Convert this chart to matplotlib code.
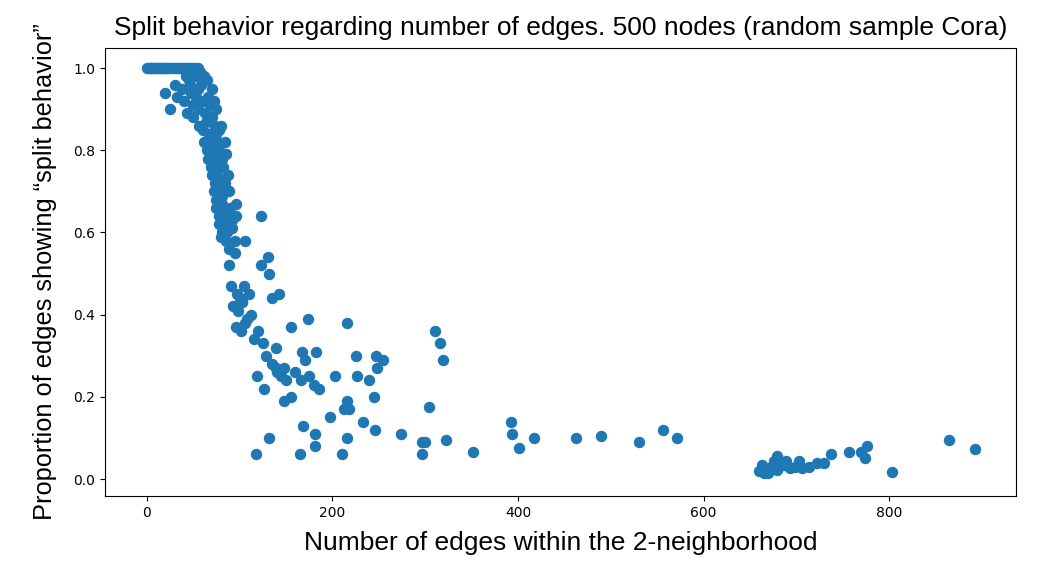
import matplotlib
matplotlib.use("Agg")
from matplotlib import pyplot as plt

# top row: proportion exactly 1.0
top_x = [0, 2, 3, 5, 6, 8, 9, 11, 12, 14, 15, 17, 18, 20, 22, 24, 26, 28, 30, 32,
         34, 36, 38, 40, 42, 44, 46, 48, 50, 52, 55]
top_y = [1.0] * len(top_x)

# steep band of low-edge nodes
band_x = [20, 25, 30, 33, 38, 40, 43, 45, 48, 50, 52, 55, 57, 60, 42, 47, 53, 58, 62, 65,
          50, 55, 60, 63, 66, 68, 70, 72, 56, 60, 64, 67, 70, 73, 75, 78, 62, 65, 68, 71,
          74, 77, 80, 66, 69, 72, 75, 78, 81, 84, 70, 73, 76, 79, 82, 85, 72, 75, 78, 81,
          84, 87, 75, 78, 81, 84, 88, 78, 81, 84, 87, 90, 80, 83, 86, 89, 92, 85, 88, 92,
          95, 88, 91, 97, 102, 100, 105, 110, 93, 98, 103, 108, 112, 96, 101, 106]
band_y = [0.94, 0.90, 0.96, 0.93, 0.95, 0.92, 0.89, 0.97, 0.94, 0.91, 0.98, 0.95, 0.99, 0.97, 0.98, 0.96, 0.93, 0.96, 0.98, 0.97,
          0.88, 0.90, 0.92, 0.89, 0.93, 0.91, 0.95, 0.92, 0.86, 0.85, 0.87, 0.84, 0.88, 0.86, 0.90, 0.85, 0.82, 0.80, 0.83, 0.81,
          0.84, 0.82, 0.86, 0.78, 0.76, 0.79, 0.77, 0.80, 0.78, 0.82, 0.74, 0.72, 0.75, 0.73, 0.76, 0.79, 0.70, 0.68, 0.71, 0.69,
          0.72, 0.74, 0.66, 0.64, 0.67, 0.65, 0.70, 0.62, 0.60, 0.63, 0.61, 0.66, 0.59, 0.62, 0.60, 0.64, 0.63, 0.58, 0.56, 0.61,
          0.58, 0.52, 0.47, 0.45, 0.43, 0.44, 0.47, 0.45, 0.42, 0.41, 0.43, 0.39, 0.40, 0.37, 0.36, 0.38]

# scattered mid-range points
mid_x = [123, 131, 132, 135, 142, 155, 174, 216, 95, 106, 123, 96, 96,
         119, 126, 139, 148, 139, 167, 182, 132, 118, 165, 168, 181, 181, 210, 216,
         197, 216, 212, 218, 203, 233, 246, 245, 226, 225, 239, 247, 254, 248, 175,
         186, 180, 166, 155, 148, 170, 115, 120, 125, 128, 135, 140, 145, 150, 160]
mid_y = [0.52, 0.54, 0.50, 0.44, 0.45, 0.37, 0.39, 0.38, 0.55, 0.58, 0.64, 0.67, 0.64,
         0.25, 0.22, 0.27, 0.27, 0.32, 0.31, 0.31, 0.10, 0.06, 0.06, 0.13, 0.11, 0.08, 0.06, 0.10,
         0.15, 0.19, 0.17, 0.17, 0.25, 0.14, 0.12, 0.20, 0.25, 0.30, 0.24, 0.30, 0.29, 0.27, 0.25,
         0.22, 0.23, 0.24, 0.20, 0.19, 0.29, 0.34, 0.36, 0.33, 0.30, 0.28, 0.26, 0.25, 0.24, 0.26]

# sparse tail
tail_x = [274, 296, 296, 300, 304, 311, 316, 319, 322, 352, 392, 394, 401, 417, 462, 489, 530, 556, 571,
          660, 663, 669, 673, 676, 682, 687, 693, 703, 706, 714, 722, 730, 737, 757, 770, 774, 776, 803,
          864, 892, 665, 671, 679, 689, 698, 679]
tail_y = [0.11, 0.09, 0.06, 0.09, 0.175, 0.36, 0.33, 0.29, 0.095, 0.065, 0.14, 0.11, 0.075, 0.10, 0.10, 0.105, 0.09, 0.12, 0.10,
          0.02, 0.035, 0.015, 0.03, 0.045, 0.04, 0.035, 0.027, 0.045, 0.027, 0.03, 0.04, 0.04, 0.06, 0.065, 0.065, 0.052, 0.08, 0.017,
          0.095, 0.073, 0.015, 0.025, 0.022, 0.045, 0.03, 0.055]

xs = top_x + band_x + mid_x + tail_x
ys = top_y + band_y + mid_y + tail_y

fig = plt.figure(figsize=(10.51, 5.78), dpi=100)
ax = fig.add_axes([0.1, 0.142, 0.867, 0.775])
ax.scatter(xs, ys, s=52, color="#1f77b4")

ax.set_title("Split behavior regarding number of edges. 500 nodes (random sample Cora)",
             fontsize=19, family="Liberation Sans", pad=9)
ax.set_xlabel("Number of edges within the 2-neighborhood", fontsize=19, family="Liberation Sans", labelpad=8)
ax.set_ylabel("Proportion of edges showing “split behavior”", fontsize=18.3, family="Liberation Sans", labelpad=12)
ax.set_xlim(-45, 937)
ax.set_ylim(-0.041, 1.049)

fig.savefig("out.png")
